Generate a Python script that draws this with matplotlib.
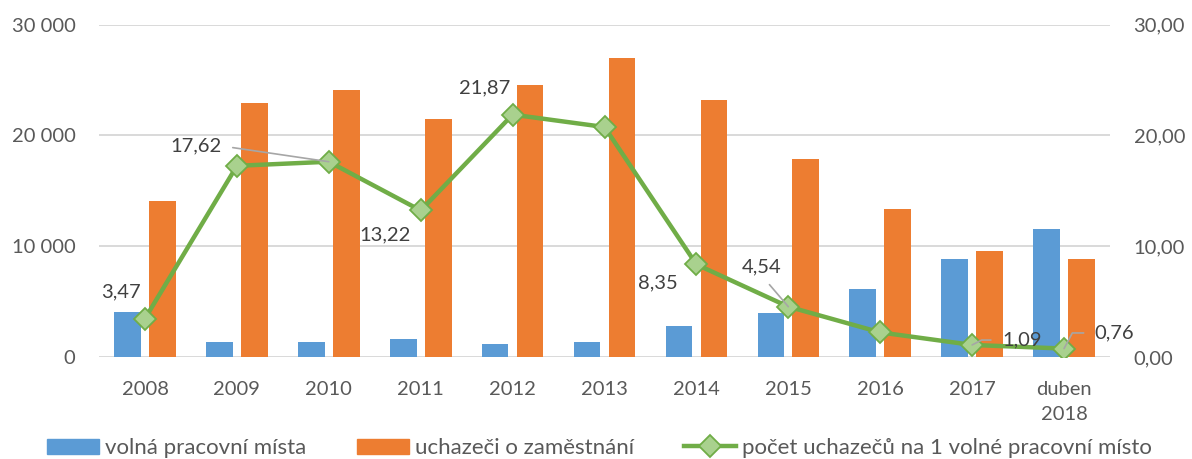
import numpy as np
import matplotlib
matplotlib.use("Agg")
import matplotlib.pyplot as plt
from matplotlib.ticker import FuncFormatter, MultipleLocator
from matplotlib.patches import Patch
from matplotlib.lines import Line2D

plt.rcParams['font.family'] = ['Lato', 'DejaVu Sans']

categories = ['2008', '2009', '2010', '2011', '2012', '2013', '2014', '2015', '2016', '2017', 'duben\n2018']
volna_mista = [4030, 1330, 1350, 1620, 1140, 1330, 2770, 3940, 6130, 8810, 11580]
uchazeci = [14050, 22950, 24060, 21470, 24510, 26950, 23160, 17840, 13350, 9590, 8810]
pomer = [3.47, 17.25, 17.62, 13.22, 21.87, 20.75, 8.35, 4.54, 2.22, 1.09, 0.76]
pomer_labels = ['3,47', None, '17,62', '13,22', '21,87', None, '8,35', '4,54', None, '1,09', '0,76']

series_names = ['volná pracovní místa', 'uchazeči o zaměstnání', 'počet uchazečů na 1 volné pracovní místo']

BLUE = '#5B9BD5'
ORANGE = '#ED7D31'
GREEN = '#70AD47'
GREEN_LIGHT = '#A9D18E'
GRID = '#D9D9D9'
TICK = '#595959'
LABEL = '#404040'
FS = 14.5
LFS = 16

fig = plt.figure(figsize=(11.92, 4.59), dpi=100)
ax = fig.add_axes([0.0831, 0.2222, 0.8481, 0.7244])
ax2 = ax.twinx()

x = np.arange(len(categories))
w = 0.29
off = 0.19
ax.bar(x - off, volna_mista, width=w, color=BLUE, zorder=2)
ax.bar(x + off, uchazeci, width=w, color=ORANGE, zorder=2)

ax.set_xlim(-0.5, len(categories) - 0.5)
ax.set_ylim(0, 30000)
ax.yaxis.set_major_locator(MultipleLocator(10000))
ax.yaxis.set_major_formatter(FuncFormatter(lambda v, p: f"{int(v):,}".replace(',', ' ')))
ax.set_axisbelow(True)
ax.yaxis.grid(True, color=GRID, linewidth=1.4)
ax.set_xticks(x)
ax.set_xticklabels(categories, linespacing=1.6)
for a in (ax, ax2):
    for s in a.spines.values():
        s.set_visible(False)
ax.tick_params(axis='both', length=0, labelsize=FS, labelcolor=TICK)
ax.tick_params(axis='y', pad=17)
ax.tick_params(axis='x', pad=17)

ax2.set_ylim(0, 30)
ax2.yaxis.set_major_locator(MultipleLocator(10))
ax2.yaxis.set_major_formatter(FuncFormatter(lambda v, p: f"{v:.2f}".replace('.', ',')))
ax2.tick_params(axis='y', length=0, labelsize=FS, labelcolor=TICK, pad=17)

ax2.plot(x, pomer, color=GREEN, linewidth=3.2, marker='D', markersize=11,
         markerfacecolor=GREEN_LIGHT, markeredgecolor=GREEN, markeredgewidth=1.3, zorder=3)

# data labels (text position in data coords)
label_pos = {
    0: (-0.26, 5.86, None),
    2: (0.556, 19.04, dict(relpos=(1, 0.5), conn='arc3', shrinkA=6)),
    3: (2.614, 11.0, None),
    4: (3.70, 24.27, None),
    6: (5.577, 6.68, None),
    7: (6.71, 8.12, dict(relpos=(0.5, 0), conn='arc3', shrinkA=6)),
    9: (9.54, 1.53, dict(relpos=(0, 0.5), conn='angle,angleA=0,angleB=27,rad=0', shrinkA=6)),
    10: (10.55, 2.17, dict(relpos=(0, 0.5), conn='angle,angleA=0,angleB=62,rad=0', shrinkA=6)),
}
for i, (tx, ty, lead) in label_pos.items():
    if lead is None:
        ax2.text(tx, ty, pomer_labels[i], ha='center', va='center', fontsize=FS, color=LABEL, zorder=5)
    else:
        ax2.annotate(pomer_labels[i], xy=(x[i], pomer[i]), xytext=(tx, ty), ha='center', va='center',
                     fontsize=FS, color=LABEL, zorder=5,
                     arrowprops=dict(arrowstyle='-', color='#A6A6A6', lw=1.2,
                                     connectionstyle=lead['conn'], relpos=lead['relpos'],
                                     shrinkA=lead['shrinkA'], shrinkB=0))

handles = [Patch(color=BLUE), Patch(color=ORANGE),
           Line2D([], [], color=GREEN, linewidth=3.2, marker='D', markersize=11,
                  markerfacecolor=GREEN_LIGHT, markeredgecolor=GREEN, markeredgewidth=1.3)]
leg = fig.legend(handles, series_names, loc='lower center', bbox_to_anchor=(0.503, 0.002), ncol=3,
                 frameon=False, fontsize=LFS, handlelength=2.35, handleheight=0.65, handletextpad=0.27,
                 columnspacing=2.25, borderaxespad=0, borderpad=0)
for t in leg.get_texts():
    t.set_color(TICK)

fig.savefig('out.png', dpi=100)
